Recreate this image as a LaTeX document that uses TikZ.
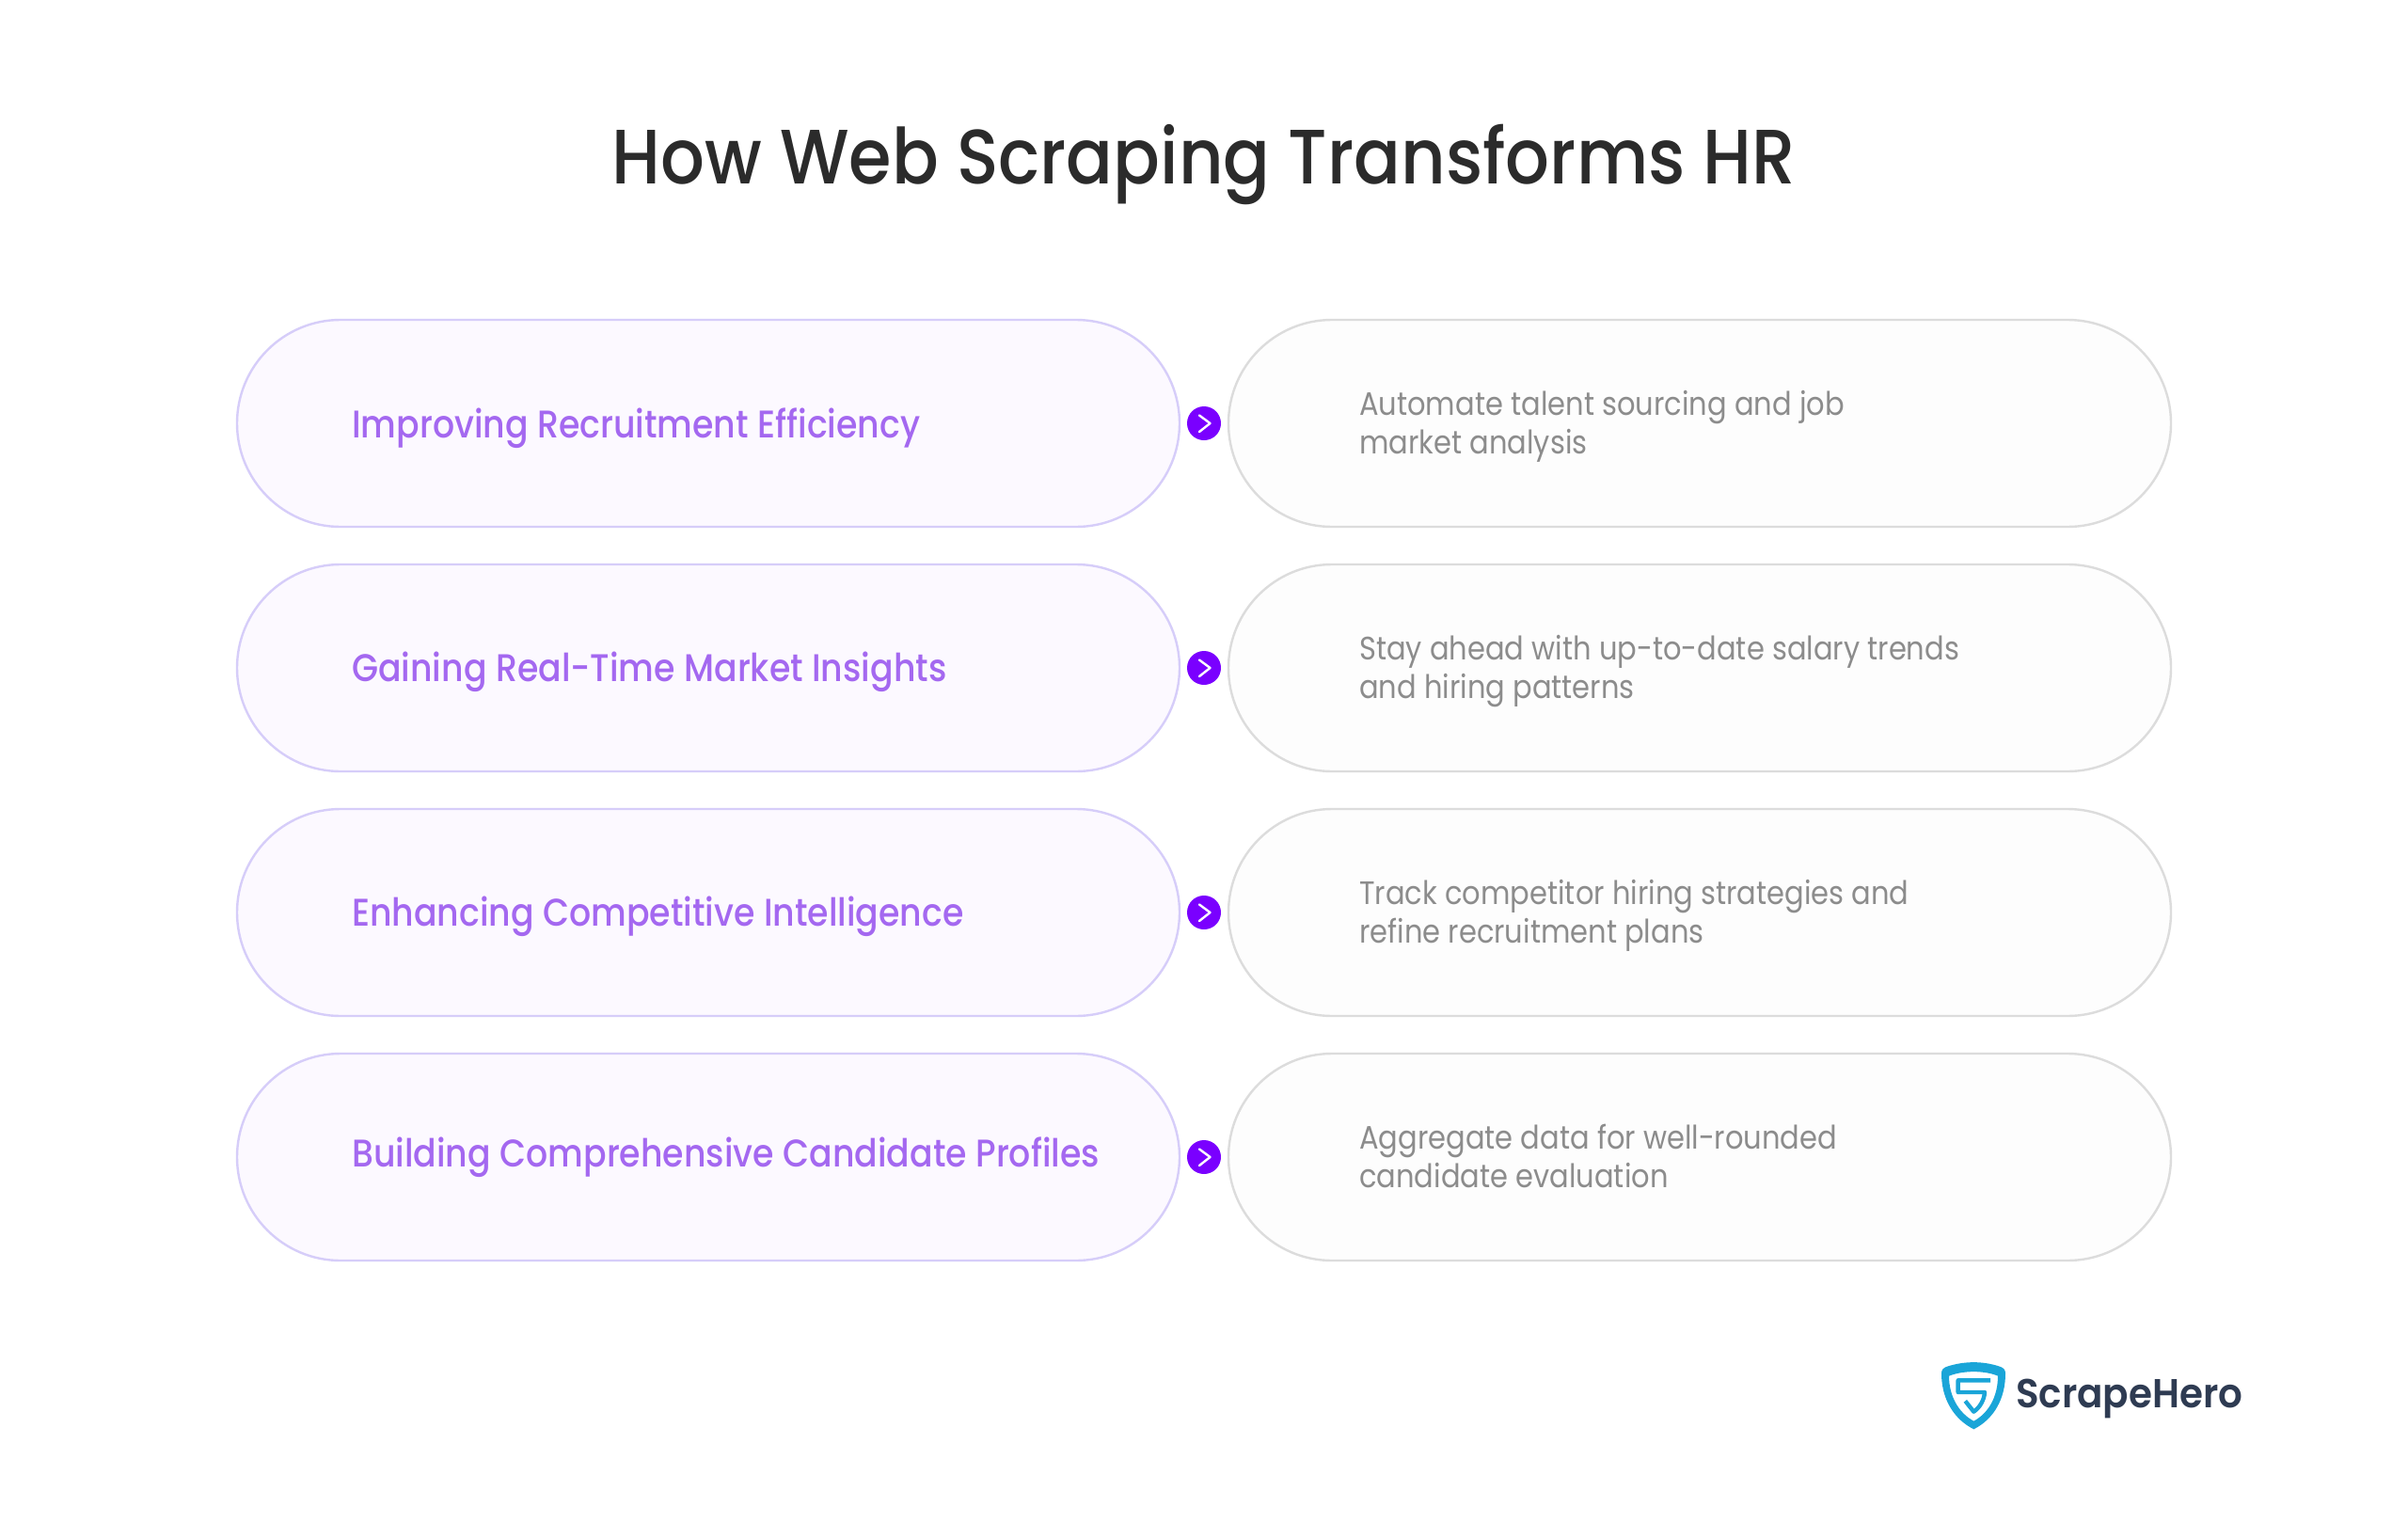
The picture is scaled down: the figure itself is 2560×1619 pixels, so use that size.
\documentclass[tikz,border=0pt]{standalone}
\usepackage{fontspec}
\setmainfont{Poppins}
\newfontfamily\titlefont[FakeStretch=0.897]{Poppins Medium}
\newfontfamily\headfont[FakeStretch=0.885]{Poppins Medium}
\newfontfamily\descfont[FakeStretch=0.885]{Poppins}
\newfontfamily\logofont[FakeStretch=0.94]{Poppins SemiBold}
\definecolor{pA}{HTML}{D6CDF9}
\definecolor{pF}{HTML}{FCF9FF}
\definecolor{gA}{HTML}{DCDCDC}
\definecolor{gF}{HTML}{FDFDFD}
\definecolor{headc}{HTML}{A468F0}
\definecolor{descc}{HTML}{8C8C8C}
\definecolor{titlec}{HTML}{2B2B2B}
\definecolor{arrowc}{HTML}{7A00FF}
\definecolor{logoB}{HTML}{1AA5D8}
\definecolor{logoD}{HTML}{2E3B52}
\tikzset{
  pill/.style={rectangle,rounded corners=110pt,minimum height=220pt,inner sep=0pt,line width=2.4pt},
  leftpill/.style={pill,draw=pA,fill=pF,minimum width=1002pt},
  rightpill/.style={pill,draw=gA,fill=gF,minimum width=1002pt},
  headtext/.style={anchor=base west,inner sep=0pt,text=headc,font=\headfont\fontsize{41}{41}\selectfont},
  desctext/.style={anchor=west,inner sep=0pt,text=descc,align=left,font=\descfont\fontsize{34.5}{41.5}\selectfont},
  dot/.style={circle,fill=arrowc,minimum size=36pt,inner sep=0pt},
  chev/.style={draw=white,line width=2.4pt,line cap=round,line join=round},
}
\begin{document}
\begin{tikzpicture}[x=1pt,y=-1pt]
\useasboundingbox[fill=white] (0,0) rectangle (2560,1619);
\node[anchor=base,inner sep=0pt,text=titlec,font=\titlefont\fontsize{82}{82}\selectfont] (title) at (1280,195) {How Web Scraping Transforms HR};
% row 1
\node[leftpill] (l1) at (753,450) {};
\node[rightpill] (r1) at (1807,450) {};
\node[dot] (d1) at (1280,450) {};
\node[headtext] (h1) at (374,465) {Improving Recruitment Efficiency};
\node[desctext] (t1) at (1445,453.5) {\strut Automate talent sourcing and job\\\strut market analysis};
% row 2
\node[leftpill] (l2) at (753,710) {};
\node[rightpill] (r2) at (1807,710) {};
\node[dot] (d2) at (1280,710) {};
\node[headtext] (h2) at (374,724) {Gaining Real-Time Market Insights};
\node[desctext] (t2) at (1445,713.5) {\strut Stay ahead with up-to-date salary trends\\\strut and hiring patterns};
% row 3
\node[leftpill] (l3) at (753,970) {};
\node[rightpill] (r3) at (1807,970) {};
\node[dot] (d3) at (1280,970) {};
\node[headtext] (h3) at (374,984) {Enhancing Competitive Intelligence};
\node[desctext] (t3) at (1445,973.5) {\strut Track competitor hiring strategies and\\\strut refine recruitment plans};
% row 4
\node[leftpill] (l4) at (753,1230) {};
\node[rightpill] (r4) at (1807,1230) {};
\node[dot] (d4) at (1280,1230) {};
\node[headtext] (h4) at (374,1240) {Building Comprehensive Candidate Profiles};
\node[desctext] (t4) at (1445,1233.5) {\strut Aggregate data for well-rounded\\\strut candidate evaluation};
% chevrons
\foreach \n in {1,2,3,4}{
  \draw[chev] ([shift={(-5,-8.5)}]d\n.center) -- ([shift={(6.5,0)}]d\n.center) -- ([shift={(-5,9)}]d\n.center);
}
% logo
\begin{scope}[shift={(2040,1430)},x=0.3333pt,y=-0.3333pt]
\fill[logoB,even odd rule] (72,90) .. controls (72,78) and (78,72) .. (90,68) .. controls (145,50) and (205,50) .. (258,68) .. controls (270,72) and (276,78) .. (276,90) .. controls (276,170) and (240,235) .. (175,268) .. controls (110,235) and (72,170) .. (72,90) -- cycle
(96,98) .. controls (140,80) and (210,80) .. (252,98) .. controls (252,160) and (225,215) .. (175,242) .. controls (125,215) and (96,160) .. (96,98) -- cycle;
\draw[logoB,line width=4.4pt,line join=round] (228,112) -- (125,112) -- (125,150) -- (210,150) .. controls (208,175) and (195,198) .. (175,212) -- (148,178);
\end{scope}
\node[anchor=base west,inner sep=0pt,text=logoD,font=\logofont\fontsize{43}{43}\selectfont] (logo) at (2143,1496) {ScrapeHero};
\end{tikzpicture}
\end{document}
